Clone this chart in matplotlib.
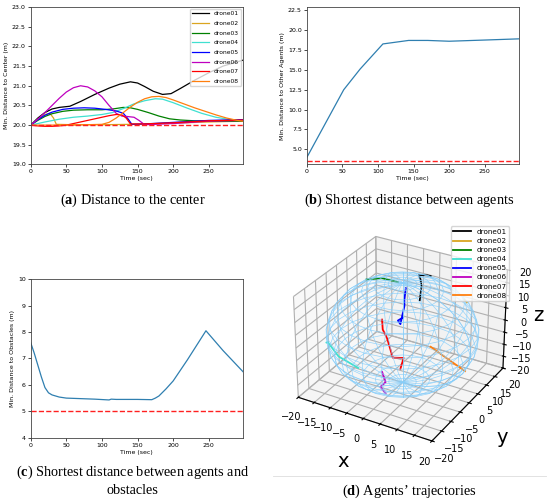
import numpy as np
import matplotlib
matplotlib.use("Agg")
import matplotlib.pyplot as plt
from matplotlib.lines import Line2D

plt.rcParams["mathtext.fontset"] = "custom"
plt.rcParams["mathtext.rm"] = "Liberation Serif"
plt.rcParams["mathtext.bf"] = "Liberation Serif:bold"

DRONES = ["drone01", "drone02", "drone03", "drone04",
          "drone05", "drone06", "drone07", "drone08"]
COLORS = ["black", "goldenrod", "green", "turquoise",
          "blue", "m", "red", "tab:orange"]

# (a) distance to the center
T01 = [0, 10, 20, 30, 40, 55, 70, 90, 110, 125, 140, 150, 160, 172, 185, 197, 210, 230, 250, 270, 298]
D01 = [20.0, 20.18, 20.32, 20.41, 20.45, 20.48, 20.6, 20.78, 20.94, 21.04, 21.1, 21.07, 20.98,
       20.86, 20.78, 20.8, 20.93, 21.14, 21.33, 21.5, 21.65]
T02 = [0, 10, 20, 27, 32, 36, 60, 100, 140, 200, 250, 298]
D02 = [20.0, 20.15, 20.27, 20.3, 20.18, 20.02, 20.01, 20.01, 20.02, 20.05, 20.08, 20.1]
T03 = [0, 10, 20, 30, 45, 60, 80, 100, 115, 130, 140, 150, 165, 180, 195, 210, 230, 260, 298]
D03 = [20.0, 20.12, 20.22, 20.29, 20.35, 20.38, 20.39, 20.39, 20.41, 20.45, 20.44, 20.4, 20.32,
       20.23, 20.16, 20.13, 20.11, 20.1, 20.1]
T04 = [0, 20, 40, 60, 80, 100, 115, 130, 145, 160, 175, 185, 200, 220, 240, 260, 280, 298]
D04 = [20.0, 20.08, 20.15, 20.2, 20.23, 20.27, 20.32, 20.42, 20.54, 20.62, 20.67, 20.66, 20.57,
       20.43, 20.3, 20.2, 20.14, 20.12]
T05 = [0, 10, 20, 30, 45, 60, 75, 90, 105, 120, 130, 137, 142, 160, 200, 250, 298]
D05 = [20.0, 20.14, 20.25, 20.33, 20.4, 20.43, 20.44, 20.43, 20.4, 20.36, 20.3, 20.15, 20.02,
       20.03, 20.07, 20.12, 20.14]
T06 = [0, 10, 20, 30, 40, 50, 60, 70, 80, 90, 100, 110, 120, 128, 135, 145, 152, 160, 200, 250, 298]
D06 = [20.0, 20.15, 20.32, 20.5, 20.68, 20.84, 20.95, 21.0, 20.97, 20.87, 20.72, 20.5, 20.3,
       20.23, 20.22, 20.2, 20.12, 20.01, 20.04, 20.1, 20.12]
T07 = [0, 10, 20, 30, 40, 50, 60, 70, 80, 90, 100, 110, 120, 128, 134, 140, 160, 200, 250, 298]
D07 = [20.0, 19.98, 19.97, 19.97, 19.98, 20.0, 20.04, 20.08, 20.12, 20.16, 20.2, 20.24, 20.27,
       20.26, 20.18, 20.03, 20.03, 20.06, 20.11, 20.13]
T08 = [0, 40, 80, 100, 110, 120, 130, 140, 150, 160, 170, 180, 190, 200, 215, 230, 245, 260, 275, 290, 298]
D08 = [20.0, 20.0, 20.01, 20.02, 20.07, 20.18, 20.32, 20.46, 20.58, 20.67, 20.72, 20.73, 20.7,
       20.64, 20.54, 20.44, 20.35, 20.26, 20.18, 20.12, 20.1]
CENTER_LIMIT = 20.0

# (b) shortest distance between agents
T_AGENTS = [0, 52, 75, 107, 143, 170, 200, 250, 298]
D_AGENTS = [3.95, 12.5, 15.1, 18.26, 18.7, 18.7, 18.6, 18.75, 18.9]
AGENT_LIMIT = 3.55

# (c) shortest distance to obstacles
T_OBST = [0, 5, 10, 15, 20, 25, 30, 40, 50, 70, 90, 110, 113, 120, 150, 170, 175, 180, 190,
          200, 220, 246, 270, 298]
D_OBST = [7.6, 7.2, 6.75, 6.3, 5.9, 5.7, 5.62, 5.54, 5.5, 5.48, 5.46, 5.43, 5.46, 5.45, 5.45,
          5.44, 5.5, 5.58, 5.85, 6.15, 6.95, 8.05, 7.3, 6.5]
OBST_LIMIT = 5.0

# (d) trajectories (x, y, z)
P01 = [(1.6, 12.0, 16.0), (0.9, 11.4, 16.4), (-0.0, 8.6, 17.9), (2.5, 5.0, 19.1),
       (4.7, 1.5, 19.3), (7.2, -3.8, 18.3)]
P02 = [(12.45, 10.43, 11.66), (13.2, 10.6, 10.6)]
P03 = [(-12.6, 2.9, 15.2), (-7.0, 1.5, 18.5), (-1.2, -0.2, 20.0)]
P04 = [(-16.1, -11.7, -1.9), (-15.0, -12.8, -0.5), (-9.0, -17.0, -1.0), (-1.3, -19.9, -0.4)]
P05 = [(2.0, -1.8, 19.8), (4.0, -6.0, 18.6), (5.0, -7.7, 17.8), (6.5, -12.3, 14.4),
       (5.6, -12.0, 15.2), (6.2, -10.5, 15.6)]
P06 = [(5.3, -19.3, 0.3), (5.8, -18.5, -4.0), (4.0, -18.0, -7.0), (4.5, -16.4, -10.5)]
P07 = [(1.75, -13.2, 14.9), (3.0, -15.0, 12.8), (4.9, -16.1, 10.9), (7.45, -17.7, 5.6),
       (9.85, -16.5, 5.6), (9.5, -17.5, 2.0)]
P08 = [(14.5, -11.2, 8.1), (16.5, -5.0, -0.5), (17.7, 1.7, -9.2)]
PATHS = [P01, P02, P03, P04, P05, P06, P07, P08]
SPHERE_RADIUS = 20
AX3_TICKS = [-20, -15, -10, -5, 0, 5, 10, 15, 20]

fig = plt.figure(figsize=(5.5, 5.03), dpi=100)


def style_2d(ax, ylabel):
    ax.set_xlim(0, 298)
    ax.set_xticks([0, 50, 100, 150, 200, 250])
    ax.set_xlabel("Time (sec)", fontsize=4.5, labelpad=1.5)
    ax.set_ylabel(ylabel, fontsize=4.5, labelpad=2)
    ax.tick_params(labelsize=4.5, length=2, width=0.5, pad=1.5)
    for s in ax.spines.values():
        s.set_linewidth(0.6)
        s.set_color("#444444")


# (a)
ax_a = fig.add_axes([0.0558, 0.673, 0.386, 0.313])
times = [T01, T02, T03, T04, T05, T06, T07, T08]
dists = [D01, D02, D03, D04, D05, D06, D07, D08]
for t, d, c, name in zip(times, dists, COLORS, DRONES):
    ax_a.plot(t, d, color=c, lw=0.9, label=name)
ax_a.axhline(CENTER_LIMIT, color="#ff2020", ls="--", lw=1.0)
ax_a.set_ylim(19.0, 23.0)
ax_a.set_yticks(np.arange(19.0, 23.01, 0.5))
style_2d(ax_a, "Min. Distance to Center (m)")
ax_a.legend(loc="upper right", fontsize=4.3, borderaxespad=0.3, handlelength=2.8,
            labelspacing=0.75)

# (b)
ax_b = fig.add_axes([0.5576, 0.673, 0.386, 0.313])
ax_b.plot(T_AGENTS, D_AGENTS, color="#2f7fb0", lw=0.9)
ax_b.axhline(AGENT_LIMIT, color="#ff2020", ls="--", lw=1.0)
ax_b.set_ylim(3.1, 22.9)
ax_b.set_yticks([5.0, 7.5, 10.0, 12.5, 15.0, 17.5, 20.0, 22.5])
style_2d(ax_b, "Min. Distance to Other Agents (m)")

# (c)
ax_c = fig.add_axes([0.0558, 0.1298, 0.386, 0.315])
ax_c.plot(T_OBST, D_OBST, color="#2f7fb0", lw=0.9)
ax_c.axhline(OBST_LIMIT, color="#ff2020", ls="--", lw=1.0)
ax_c.set_ylim(4, 10)
style_2d(ax_c, "Min. Distance to Obstacles (m)")

# (d)
ax_d = fig.add_axes([0.481, 0.0935, 0.49, 0.473], projection="3d")
u = np.linspace(0, 2 * np.pi, 25)
v = np.linspace(0, np.pi, 18)
sx = SPHERE_RADIUS * np.outer(np.cos(u), np.sin(v))
sy = SPHERE_RADIUS * np.outer(np.sin(u), np.sin(v))
sz = SPHERE_RADIUS * np.outer(np.ones_like(u), np.cos(v))
ax_d.plot_wireframe(sx, sy, sz, color="lightskyblue", lw=0.5, alpha=0.85)
for p, c, name in zip(PATHS, COLORS, DRONES):
    p = np.array(p)
    ax_d.plot(p[:, 0], p[:, 1], p[:, 2], color=c, lw=1.3, label=name)
ax_d.set_xlim(-20, 20)
ax_d.set_ylim(-20, 20)
ax_d.set_zlim(-20, 20)
ax_d.set_xticks(AX3_TICKS)
ax_d.set_yticks(AX3_TICKS)
ax_d.set_zticks(AX3_TICKS)
ax_d.tick_params(labelsize=7, pad=0)
ax_d.set_xlabel("x", fontsize=14, labelpad=1)
ax_d.set_ylabel("y", fontsize=14, labelpad=1)
ax_d.set_zlabel("z", fontsize=14, labelpad=-6)
ax_d.legend(loc="upper right", bbox_to_anchor=(0.932, 0.557),
            bbox_transform=fig.transFigure, fontsize=5.2, labelspacing=0.42,
            handlelength=2.4, borderpad=0.35)

# captions
cap = dict(family="Liberation Serif", size=10.3, ha="center", va="center")
fig.text(0.241, 0.602, r"($\mathbf{a}$) Distance to the center", **cap)
fig.text(0.744, 0.602, r"($\mathbf{b}$) Shortest distance between agents", **cap)
fig.text(0.241, 0.0616, r"($\mathbf{c}$) Shortest distance between agents and", **cap)
fig.text(0.241, 0.0258, "obstacles", **cap)
fig.text(0.744, 0.0225, r"($\mathbf{d}$) Agents’ trajectories", **cap)
fig.add_artist(Line2D([0.496, 0.992], [0.0537, 0.0537], color="#dddddd", lw=0.6))

fig.savefig("out.png", dpi=100)
